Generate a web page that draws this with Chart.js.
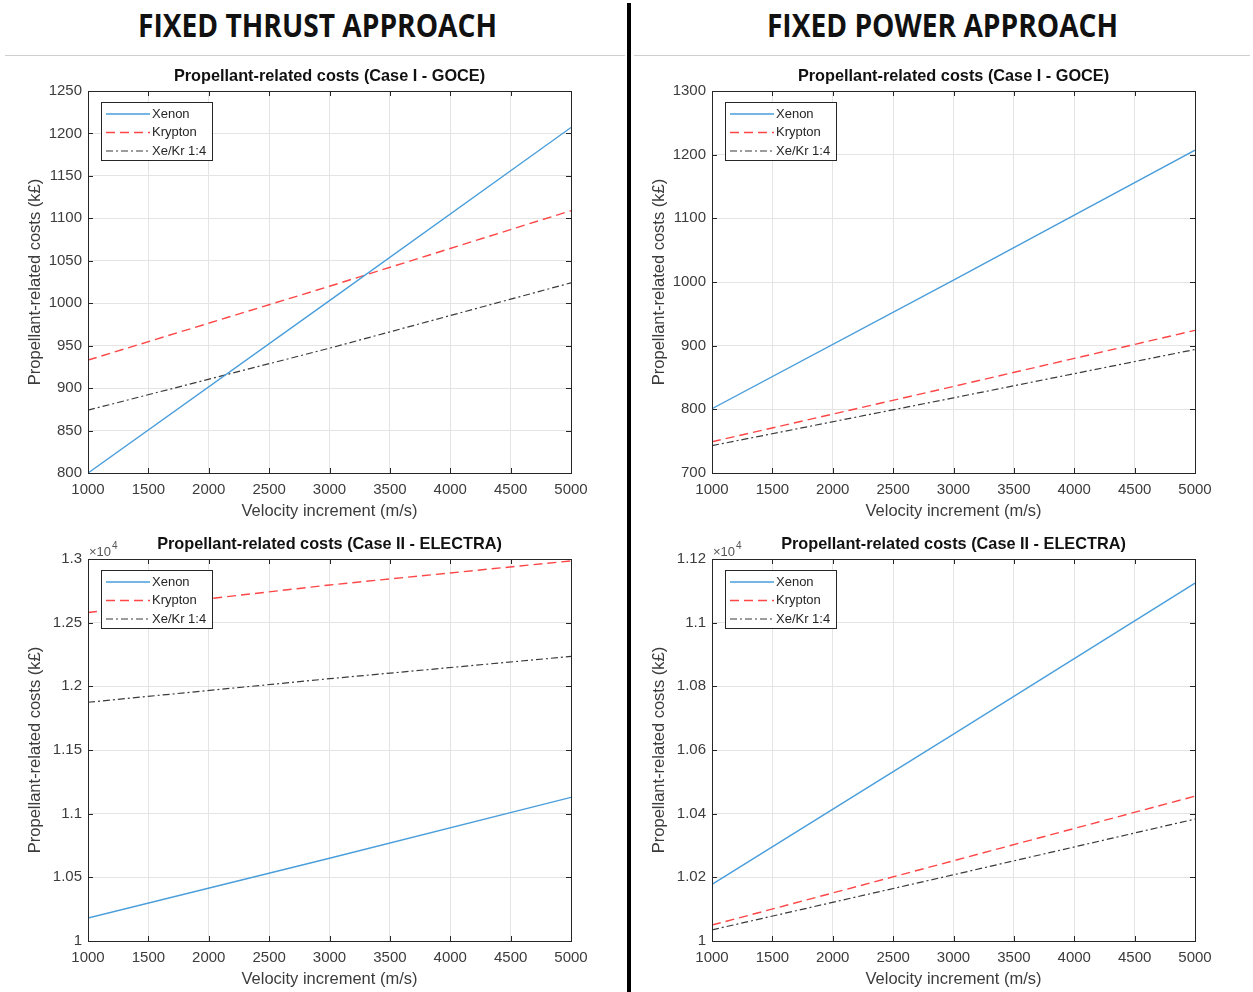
<!DOCTYPE html>
<html lang="en">
<head>
  <meta charset="UTF-8" />
  <title>Propellant-related costs</title>
  <style>
    body { margin: 0; background: #fff; width: 1253px; height: 992px; position: relative; overflow: hidden; font-family: "Liberation Sans", Arial, sans-serif; }
    .head { position: absolute; top: 3px; width: 625px; text-align: center; font-family: "Open Sans", sans-serif; font-weight: 700; font-size: 32px; color: #111; transform: scaleX(0.88); }
    #divider { position: absolute; left: 627px; top: 3px; width: 4px; height: 989px; background: #000; }
    .hline { position: absolute; top: 55px; height: 1px; background: #cfcfcf; }
    .box { position: absolute; }
  </style>
  <script src="https://cdn.jsdelivr.net/npm/chart.js"></script>
</head>
<body>
  <div class="head" style="left:5px">FIXED THRUST APPROACH</div>
  <div class="head" style="left:630px">FIXED POWER APPROACH</div>
  <div class="hline" style="left:5px;width:620px"></div>
  <div class="hline" style="left:634px;width:616px"></div>
  <div id="divider"></div>

  <div class="box" style="left:0;top:60px;width:625px;height:470px"><canvas id="c1"></canvas></div>
  <div class="box" style="left:634px;top:60px;width:619px;height:470px"><canvas id="c2"></canvas></div>
  <div class="box" style="left:0;top:528px;width:625px;height:464px"><canvas id="c3"></canvas></div>
  <div class="box" style="left:634px;top:528px;width:619px;height:464px"><canvas id="c4"></canvas></div>

  <script>
    // velocity increment (m/s)
    const dv = [1000, 3000, 5000];
    const seriesNames = ['Xenon', 'Krypton', 'Xe/Kr 1:4'];

    // Case I - GOCE (k£)
    const thrustGoceXe = [800, 1003, 1207];
    const thrustGoceKr = [933, 1020, 1109];
    const thrustGoceMix = [874, 947, 1024];
    const powerGoceXe = [801, 1003, 1207];
    const powerGoceKr = [749, 836, 924];
    const powerGoceMix = [743, 818, 894];

    // Case II - ELECTRA (k£)
    const thrustElectraXe = [10180, 10650, 11128];
    const thrustElectraKr = [12580, 12796, 12985];
    const thrustElectraMix = [11875, 12060, 12235];
    const powerElectraXe = [10178, 10650, 11124];
    const powerElectraKr = [10050, 10252, 10455];
    const powerElectraMix = [10035, 10208, 10383];

    const colXe = '#4a9edb', colKr = '#ff4646', colMix = '#3a3a3a';
    const axisCol = '#262626', tickCol = '#3c3c3c';
    const fam = '"Liberation Sans", Arial, sans-serif';

    function pts(ys) { return dv.map((x, i) => ({ x: x, y: ys[i] })); }

    function datasets(xe, kr, mix) {
      return [
        { label: seriesNames[0], data: pts(xe), borderColor: colXe, borderWidth: 1.4, borderDash: [] },
        { label: seriesNames[1], data: pts(kr), borderColor: colKr, borderWidth: 1.4, borderDash: [9, 5] },
        { label: seriesNames[2], data: pts(mix), borderColor: colMix, borderWidth: 1.2, borderDash: [7, 3, 2, 3] }
      ];
    }

    // MATLAB-like frame: box, inward ticks, titles, legend and exponent
    const matFrame = {
      id: 'matFrame',
      afterDraw(chart, args, o) {
        const c = chart.ctx, a = chart.chartArea;
        const xs = chart.scales.x, ys = chart.scales.y;
        c.save();
        c.strokeStyle = axisCol; c.lineWidth = 1;
        c.strokeRect(Math.round(a.left) + 0.5, Math.round(a.top) + 0.5, Math.round(a.right - a.left), Math.round(a.bottom - a.top));
        c.beginPath();
        xs.ticks.forEach(t => {
          const px = Math.round(xs.getPixelForValue(t.value)) + 0.5;
          c.moveTo(px, a.bottom); c.lineTo(px, a.bottom - 5);
          c.moveTo(px, a.top); c.lineTo(px, a.top + 5);
        });
        ys.ticks.forEach(t => {
          const py = Math.round(ys.getPixelForValue(t.value)) + 0.5;
          c.moveTo(a.left, py); c.lineTo(a.left + 5, py);
          c.moveTo(a.right, py); c.lineTo(a.right - 5, py);
        });
        c.stroke();

        // chart title
        c.fillStyle = '#111';
        c.font = 'bold 16.3px ' + fam;
        c.textAlign = 'center'; c.textBaseline = 'middle';
        c.fillText(o.title, (a.left + a.right) / 2, a.top - 14);

        // axis titles
        c.fillStyle = tickCol;
        c.font = '16.5px ' + fam;
        c.fillText('Velocity increment (m/s)', (a.left + a.right) / 2, a.bottom + 38);
        c.save();
        c.translate(a.left - 53, (a.top + a.bottom) / 2);
        c.rotate(-Math.PI / 2);
        c.fillText('Propellant-related costs (k\u00a3)', 0, 0);
        c.restore();

        // exponent label
        if (o.exp) {
          c.textAlign = 'left'; c.textBaseline = 'alphabetic';
          c.fillStyle = '#555';
          c.font = '13px ' + fam;
          c.fillText('\u00d710', a.left + 1, a.top - 3);
          const w = c.measureText('\u00d710').width;
          c.font = '10px ' + fam;
          c.fillText('4', a.left + 2 + w, a.top - 10);
        }

        // legend
        const lx = a.left + 13, ly = a.top + 11, lw = 111, lh = 58;
        c.fillStyle = '#fff';
        c.fillRect(lx, ly, lw, lh);
        c.strokeStyle = axisCol; c.lineWidth = 1; c.setLineDash([]);
        c.strokeRect(lx + 0.5, ly + 0.5, lw, lh);
        c.font = '13px ' + fam;
        c.textAlign = 'left'; c.textBaseline = 'middle';
        chart.data.datasets.forEach((d, i) => {
          const yy = ly + 12 + i * 18.5;
          c.strokeStyle = d.borderColor; c.lineWidth = d.borderWidth;
          c.setLineDash(d.borderDash);
          c.beginPath(); c.moveTo(lx + 5, yy); c.lineTo(lx + 49, yy); c.stroke();
          c.setLineDash([]);
          c.fillStyle = '#262626';
          c.fillText(d.label, lx + 51, yy);
        });
        c.restore();
      }
    };

    function makeChart(id, ds, cfg) {
      return new Chart(document.getElementById(id), {
        type: 'line',
        data: { datasets: ds },
        plugins: [matFrame],
        options: {
          responsive: true,
          maintainAspectRatio: false,
          animation: false,
          elements: { point: { radius: 0 }, line: { tension: 0 } },
          layout: { padding: { top: 31, right: cfg.padRight, left: 0, bottom: 0 } },
          plugins: {
            legend: { display: false },
            tooltip: { enabled: false },
            matFrame: { title: cfg.title, exp: cfg.exp }
          },
          scales: {
            x: {
              type: 'linear', min: 1000, max: 5000,
              afterFit: s => { s.height = cfg.xHeight; },
              grid: { color: '#e4e4e4', drawTicks: false },
              border: { display: false },
              ticks: { stepSize: 500, padding: 8, color: tickCol, maxRotation: 0,
                       font: { family: fam, size: 15 },
                       callback: v => String(v) }
            },
            y: {
              min: cfg.yMin, max: cfg.yMax,
              afterFit: s => { s.width = cfg.yWidth; },
              grid: { color: '#e4e4e4', drawTicks: false },
              border: { display: false },
              ticks: { stepSize: cfg.yStep, padding: 6, color: tickCol,
                       font: { family: fam, size: 15 },
                       callback: cfg.fmt }
            }
          }
        }
      });
    }

    const fmtPlain = v => String(v);
    const fmtExp = v => String(Math.round(v / 100) / 100);

    makeChart('c1', datasets(thrustGoceXe, thrustGoceKr, thrustGoceMix),
      { title: 'Propellant-related costs (Case I - GOCE)', exp: false, padRight: 54, xHeight: 57, yWidth: 88,
        yMin: 800, yMax: 1250, yStep: 50, fmt: fmtPlain });
    makeChart('c2', datasets(powerGoceXe, powerGoceKr, powerGoceMix),
      { title: 'Propellant-related costs (Case I - GOCE)', exp: false, padRight: 58, xHeight: 57, yWidth: 78,
        yMin: 700, yMax: 1300, yStep: 100, fmt: fmtPlain });
    makeChart('c3', datasets(thrustElectraXe, thrustElectraKr, thrustElectraMix),
      { title: 'Propellant-related costs (Case II - ELECTRA)', exp: true, padRight: 54, xHeight: 51, yWidth: 88,
        yMin: 10000, yMax: 13000, yStep: 500, fmt: fmtExp });
    makeChart('c4', datasets(powerElectraXe, powerElectraKr, powerElectraMix),
      { title: 'Propellant-related costs (Case II - ELECTRA)', exp: true, padRight: 58, xHeight: 51, yWidth: 78,
        yMin: 10000, yMax: 11200, yStep: 200, fmt: fmtExp });
  </script>
</body>
</html>
